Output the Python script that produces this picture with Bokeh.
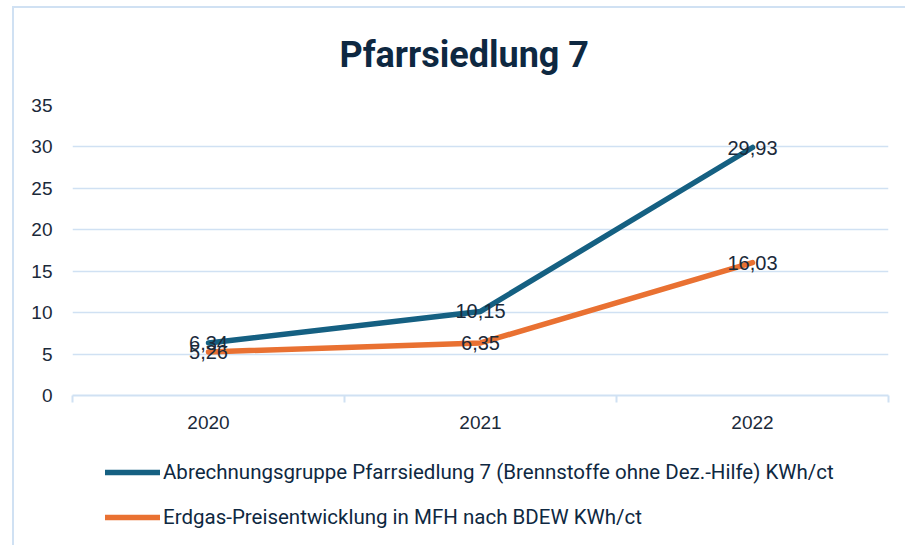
from bokeh.plotting import figure
from bokeh.layouts import column
from bokeh.models import ColumnDataSource, FixedTicker, LabelSet, Legend, LegendItem, Range1d
from bokeh.core.properties import value
from bokeh.embed import file_html
from bokeh.resources import INLINE

chart_title = "Pfarrsiedlung 7"
years = ["2020", "2021", "2022"]
series_a_name = "Abrechnungsgruppe Pfarrsiedlung 7 (Brennstoffe ohne Dez.-Hilfe) KWh/ct"
series_a = [6.34, 10.15, 29.93]
series_b_name = "Erdgas-Preisentwicklung in MFH nach BDEW KWh/ct"
series_b = [5.26, 6.35, 16.03]
y_ticks = [0, 5, 10, 15, 20, 25, 30, 35]

BLUE = "#156082"
ORANGE = "#E97132"
NAVY = "#0E2841"
TEXT = "#1B2A3A"
GRID = "#D0E1F3"

xpos = [i + 0.5 for i in range(len(years))]

def fmt(v):
    return f"{v:.2f}".replace(".", ",")

src_a = ColumnDataSource(dict(x=xpos, y=series_a, t=[fmt(v) for v in series_a]))
src_b = ColumnDataSource(dict(x=xpos, y=series_b, t=[fmt(v) for v in series_b]))

frame_bg = (f"linear-gradient({GRID},{GRID}) 12px 6px / 2px 539px no-repeat, "
            f"linear-gradient({GRID},{GRID}) 12px 6px / 893px 2px no-repeat, #ffffff")

line_style = dict(line_width=5.5, line_cap="round", line_join="round")

# ---- main chart ----
p = figure(width=905, height=440, output_backend="svg", toolbar_location=None,
           x_range=Range1d(0, len(years)), y_range=Range1d(y_ticks[0], y_ticks[-1]),
           min_border_left=72, min_border_right=17, min_border_top=105, min_border_bottom=45,
           title=chart_title)
p.border_fill_alpha = 0
p.background_fill_alpha = 0

p.title.align = "left"
p.title.offset = 267
p.title.text_font = "Roboto"
p.title.text_font_style = "bold"
p.title.text_font_size = "36px"
p.title.text_color = NAVY
p.title.standoff = 60

p.outline_line_color = None
p.xgrid.grid_line_color = None
p.ygrid.grid_line_color = GRID
p.ygrid.grid_line_width = 1.5

p.yaxis.ticker = FixedTicker(ticks=y_ticks)
p.yaxis.axis_line_color = None
p.yaxis.major_tick_line_color = None
p.yaxis.minor_tick_line_color = None
p.yaxis.major_tick_out = 0
p.yaxis.major_label_standoff = 20
p.yaxis.major_label_text_font = "Liberation Sans"
p.yaxis.major_label_text_font_size = "19px"
p.yaxis.major_label_text_color = TEXT

p.xaxis.ticker = FixedTicker(ticks=xpos, minor_ticks=list(range(len(years) + 1)))
p.xaxis.major_label_overrides = {x: y for x, y in zip(xpos, years)}
p.xaxis.axis_line_color = GRID
p.xaxis.axis_line_width = 2
p.xaxis.major_tick_line_color = None
p.xaxis.major_tick_out = 0
p.xaxis.major_tick_in = 0
p.xaxis.minor_tick_line_color = GRID
p.xaxis.minor_tick_line_width = 2
p.xaxis.minor_tick_out = 7
p.xaxis.minor_tick_in = 0
p.xaxis.major_label_standoff = 13
p.xaxis.major_label_text_font = "Liberation Sans"
p.xaxis.major_label_text_font_size = "19px"
p.xaxis.major_label_text_color = TEXT

p.line("x", "y", source=src_a, line_color=BLUE, **line_style)
p.line("x", "y", source=src_b, line_color=ORANGE, **line_style)

for s in (src_a, src_b):
    p.add_layout(LabelSet(x="x", y="y", text="t", source=s, text_align="center", text_baseline="middle",
                          text_font=value("Liberation Sans"), text_font_size=value("20px"), text_color=TEXT))

# ---- legend strip below (same series, lines kept outside its view) ----
pl = figure(width=905, height=105, output_backend="svg", toolbar_location=None,
            x_range=Range1d(-20, -19), y_range=Range1d(0, 1), min_border=0)
pl.border_fill_alpha = 0
pl.background_fill_alpha = 0
pl.outline_line_color = None
pl.axis.visible = False
pl.grid.visible = False
la = pl.line("x", "y", source=src_a, line_color=BLUE, **line_style)
lb = pl.line("x", "y", source=src_b, line_color=ORANGE, **line_style)

legend = Legend(items=[LegendItem(label=series_a_name, renderers=[la]),
                       LegendItem(label=series_b_name, renderers=[lb])],
                location=(33, 16), orientation="vertical", glyph_width=55, glyph_height=22,
                label_height=22, spacing=21, padding=0, margin=0, label_standoff=3,
                background_fill_alpha=0, border_line_color=None,
                label_text_font="Roboto",
                label_text_font_size="20.5px", label_text_color=NAVY)
pl.add_layout(legend, "center")

layout = column(p, pl, spacing=0, styles={"background": frame_bg})

open("out.html", "w").write(file_html(layout, INLINE))
